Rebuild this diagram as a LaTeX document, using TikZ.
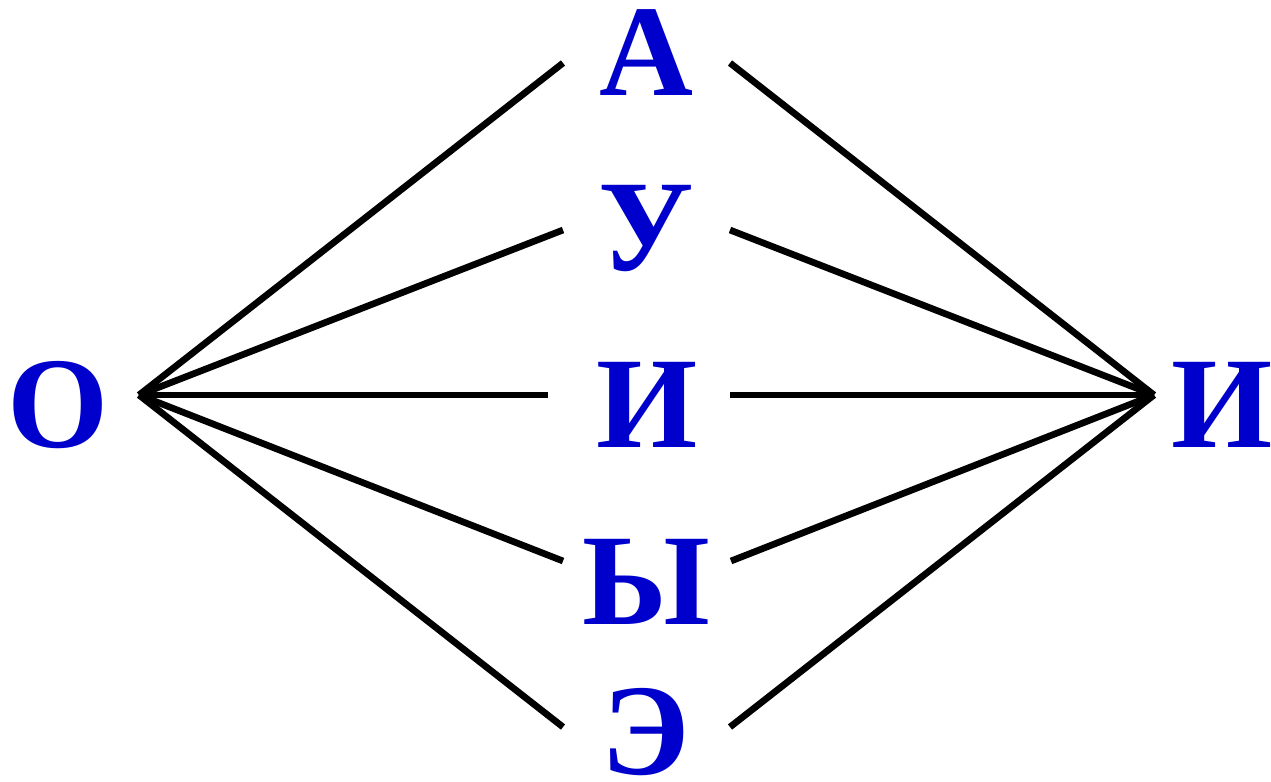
\documentclass[tikz,border=0pt]{standalone}
\usepackage{fontspec}
\setmainfont{Liberation Serif}
\usepackage{tikz}
\usetikzlibrary{positioning}
\definecolor{vowelblue}{HTML}{0000CC}

\begin{document}
\begin{tikzpicture}[
    x=0.01cm,y=-0.01cm,
    vowel/.style={font=\bfseries\fontsize{37}{44}\selectfont,text=vowelblue,
                  inner sep=0pt,anchor=base},
    link/.style={line width=1.9pt,black},
  ]
    \useasboundingbox (0,0) rectangle (1271,781);

    % letters, placed on their baselines
    \node[vowel] (vO)  at (58,447)   {О};
    \node[vowel] (vA)  at (646,95)   {А};
    \node[vowel] (vU)  at (646,270)  {У};
    \node[vowel] (vI)  at (647,447)  {И};
    \node[vowel] (vY)  at (646,624)  {Ы};
    \node[vowel] (vE)  at (646,774)  {Э};
    \node[vowel] (vIr) at (1222,447) {И};

    % meeting points of the fans
    \coordinate (hubL) at (139,395);
    \coordinate (hubR) at (1154,395);

    % free ends next to the middle column
    \coordinate (aL) at (563,63);   \coordinate (aR) at (730,63);
    \coordinate (uL) at (563,230);  \coordinate (uR) at (730,230);
    \coordinate (iL) at (548,395);  \coordinate (iR) at (730,395);
    \coordinate (yL) at (563,561);  \coordinate (yR) at (731,561);
    \coordinate (eL) at (563,727);  \coordinate (eR) at (730,727);

    % left fan
    \draw[link] (hubL) -- (aL);
    \draw[link] (hubL) -- (uL);
    \draw[link] (hubL) -- (iL);
    \draw[link] (hubL) -- (yL);
    \draw[link] (hubL) -- (eL);

    % right fan
    \draw[link] (aR) -- (hubR);
    \draw[link] (uR) -- (hubR);
    \draw[link] (iR) -- (hubR);
    \draw[link] (yR) -- (hubR);
    \draw[link] (eR) -- (hubR);
  \end{tikzpicture}
\end{document}
